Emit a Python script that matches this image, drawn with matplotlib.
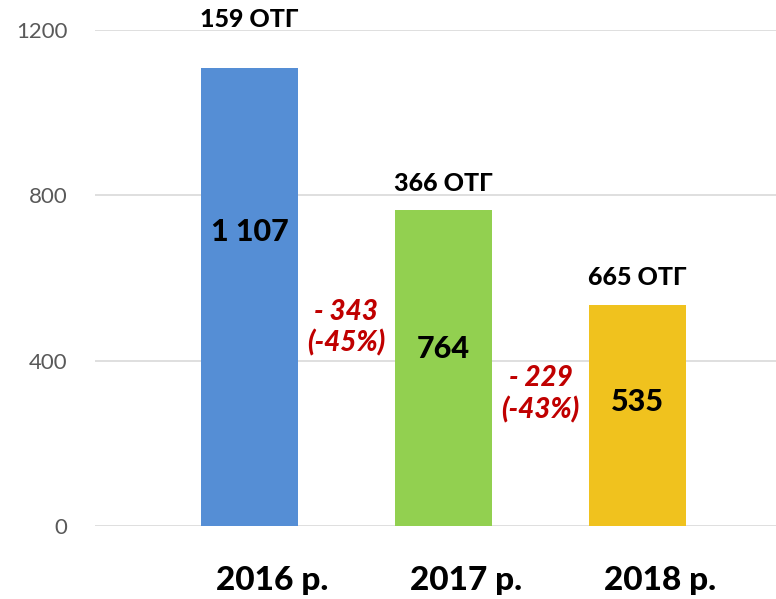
import matplotlib.pyplot as plt
import matplotlib.transforms as mtransforms

# дані
years = ['2016 р.', '2017 р.', '2018 р.']
values = [1107, 764, 535]
otg_labels = ['159 ОТГ', '366 ОТГ', '665 ОТГ']
value_labels = ['1 107', '764', '535']
change_labels = ['- 343\n(-45%)', '- 229\n(-43%)']
change_y = [479, 319]
colors = ['#558ED5', '#92D050', '#F0C21E']

plt.rcParams['font.family'] = ['Lato', 'DejaVu Sans']

fig = plt.figure(figsize=(7.76, 5.99), dpi=100)
ax = fig.add_axes([0.1224, 0.1219, 0.8776, 0.8281])

x = range(len(years))
bars = ax.bar(x, values, width=0.5, color=colors, zorder=2)

ax.set_ylim(0, 1200)
ax.set_xlim(-0.796, 2.714)
ax.set_yticks([0, 400, 800, 1200])
ax.yaxis.grid(True, color='#D9D9D9', linewidth=1.2, zorder=0)
ax.tick_params(axis='y', length=0, labelsize=16, labelcolor='#595959', pad=20)
ax.set_xticks(list(x))
ax.set_xticklabels(years, fontsize=24, fontweight='black', color='black')
ax.tick_params(axis='x', length=0, pad=29)
# підписи років трохи зсунуті праворуч
shift = mtransforms.ScaledTranslation(0.23, 0, fig.dpi_scale_trans)
for lab in ax.get_xticklabels():
    lab.set_transform(lab.get_transform() + shift)
for s in ax.spines.values():
    s.set_visible(False)

# підписи над стовпчиками
top_off = [35, 19.5, 19.5]
for i, b in enumerate(bars):
    ax.annotate(otg_labels[i], (b.get_x() + b.get_width() / 2, b.get_height()),
                xytext=(0, top_off[i]), textcoords='offset points',
                ha='center', va='center', fontsize=18, fontweight='black')

# значення в стовпчиках
mid_off = [47, 14, 10]
for i, b in enumerate(bars):
    ax.annotate(value_labels[i], (b.get_x() + b.get_width() / 2, b.get_height() / 2),
                xytext=(0, mid_off[i]), textcoords='offset points',
                ha='center', va='center', fontsize=22, fontweight='black')

# зміни між роками
for i, t in enumerate(change_labels):
    ax.text(i + 0.5, change_y[i], t, ha='center', va='center',
            fontsize=20, fontweight='black', fontstyle='italic', color='#C00000',
            linespacing=1.2)

fig.savefig('out.png', dpi=100)
